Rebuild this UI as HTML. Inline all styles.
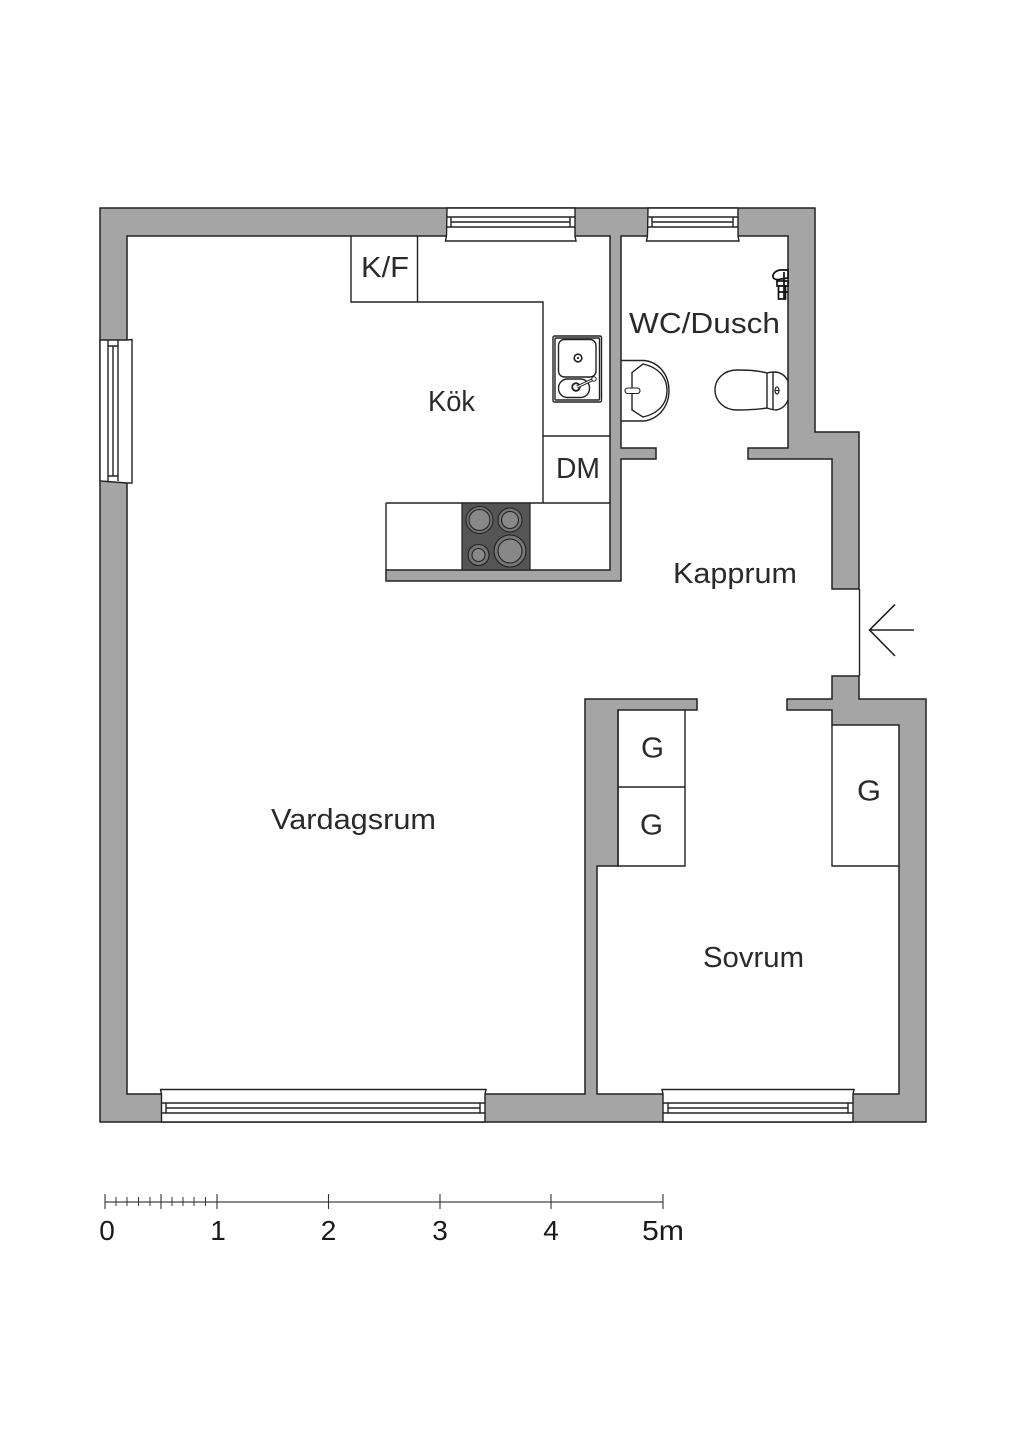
<!DOCTYPE html>
<html>
<head>
<meta charset="utf-8">
<style>
html,body{margin:0;padding:0;background:#fff;width:1024px;height:1448px;overflow:hidden}
svg{display:block}
.lab{font-family:"Liberation Sans",sans-serif;font-size:29px;fill:#2a2a2a}
.num{font-family:"Liberation Sans",sans-serif;font-size:28px;fill:#1a1a1a}
.l{fill:none;stroke:#222;stroke-width:1.4}
.w{fill:#fff;stroke:#222;stroke-width:1.4}
</style>
</head>
<body>
<svg width="1024" height="1448" viewBox="0 0 1024 1448" xmlns="http://www.w3.org/2000/svg">
<rect width="1024" height="1448" fill="#fff"/>

<!-- walls -->
<polygon fill="#a5a5a5" stroke="#222" stroke-width="1.5" points="100,208 815,208 815,432 859,432 859,589 832,589 832,459 748,459 748,448 788,448 788,236 621,236 621,448 656,448 656,459 621,459 621,581 386,581 386,570 610,570 610,236 127,236 127,1094 585,1094 585,699 697,699 697,710 618,710 618,866 597,866 597,1094 899,1094 899,725 832,725 832,710 787,710 787,699 832,699 832,676 859,676 859,699 926,699 926,1122 100,1122"/>

<!-- windows top -->
<g>
<path class="w" d="M447,208H575V236L576,241H445.500L446.500,236Z" />
<path class="l" d="M447,217H575M447,227H575M451,222H570M451,217V227M570,217V227"/>
<path class="w" d="M648,208H738V236L739,241H646.500L647.500,236Z"/>
<path class="l" d="M648,217H738M648,227H738M652,222H733M652,217V227M733,217V227"/>
</g>
<!-- window left -->
<path class="w" d="M100,340H127L132,339.500V483H127L100,481Z"/>
<path class="l" d="M108,340V481M118,340V481M113,346V476M108,346H118M108,476H118"/>
<!-- windows bottom -->
<path class="w" d="M161.500,1122V1094L160.500,1089.500H486L485,1094V1122Z"/>
<path class="l" d="M161.500,1103H485M161.500,1113H485M166,1108H480M166,1103V1113M480,1103V1113"/>
<path class="w" d="M663,1122V1094L662,1089.500H854L853,1094V1122Z"/>
<path class="l" d="M663,1103H853M663,1113H853M668,1108H848M668,1103V1113M848,1103V1113"/>

<!-- kitchen -->
<path class="l" d="M351,236V302H543V503M417.500,236V302M543,436H610M386,503H610M386,503V570"/>
<rect x="462" y="503" width="68" height="67" fill="#555" stroke="#222" stroke-width="1.2"/>
<g stroke="#222" stroke-width="1.1">
<circle cx="479.500" cy="520" r="13.500" fill="#777"/><circle cx="479.500" cy="520" r="10.500" fill="#888"/>
<circle cx="510" cy="520" r="12" fill="#777"/><circle cx="510" cy="520" r="8.500" fill="#888"/>
<circle cx="478.500" cy="555" r="10.500" fill="#777"/><circle cx="478.500" cy="555" r="6.500" fill="#888"/>
<circle cx="510" cy="551" r="16" fill="#777"/><circle cx="510" cy="551" r="12" fill="#888"/>
</g>

<!-- sink -->
<rect class="l" x="553" y="336" width="48.500" height="66" rx="1.500"/>
<rect class="l" x="555" y="338" width="44.500" height="62" rx="1"/>
<rect class="l" x="558.500" y="339.500" width="37.500" height="37.500" rx="6"/>
<rect class="l" x="558.500" y="379" width="31" height="18.500" rx="9"/>
<circle cx="578" cy="358" r="3.800" fill="#fff" stroke="#222" stroke-width="1.6"/><circle cx="578" cy="358" r="1.100" fill="#222"/>
<circle cx="576" cy="387" r="3.800" fill="#fff" stroke="#222" stroke-width="1.8"/>
<path d="M577,387L594,379" stroke="#222" stroke-width="3" fill="none"/>
<path d="M577,387L594,379" stroke="#fff" stroke-width="1" fill="none"/>
<circle cx="594" cy="379" r="2.200" fill="#fff" stroke="#222" stroke-width="1"/>

<!-- basin -->
<path class="l" d="M621,360.500H644C659,362 669,375 669,390.500C669,406 659,419 644,421H621"/>
<path class="l" d="M632,372.500L643,364C657,367 667,376 667,390.500C667,405 657,414 643,417L632,410Z"/>
<rect x="625" y="388" width="15" height="5.500" rx="2.700" fill="#fff" stroke="#222" stroke-width="1.1"/>

<!-- toilet -->
<path class="l" d="M767,373C755,370 745,370 737,370C724,370 715,379 715,390C715,401 724,410 737,410C745,410 755,410 767,408Z"/>
<path class="l" d="M767,373C770,372 773,372 776,372C782,373 786,377 788,381M767,408C770,409 773,410 776,410C782,409 786,405 788,400M773,372V410"/>
<ellipse cx="777" cy="390.500" rx="2" ry="3.500" fill="#fff" stroke="#222" stroke-width="1.2"/>
<path d="M775,390.500H779" stroke="#222" stroke-width="1"/>

<!-- shower mixer -->
<g fill="#fff" stroke="#111" stroke-width="1.7">
<path d="M788,270H780C775,271 772.500,274 773,277C774,280 778,280 781,279L788,278Z"/>
<rect x="777" y="281" width="11" height="5"/>
<rect x="778.500" y="286" width="7" height="13"/>
<path d="M778,292H788M784,272V299" fill="none"/>
</g>

<!-- closets -->
<path class="l" d="M618,710V866H685V710M618,787H685"/>
<path class="l" d="M832,725V866H899"/>

<!-- entrance -->
<path class="l" d="M859.500,589V676"/>
<path d="M914,630H869M895,604.500L869.500,630L895,656" fill="none" stroke="#222" stroke-width="1.6"/>

<!-- scale -->
<path d="M105,1202H663" stroke="#444" stroke-width="1.3" fill="none"/>
<path d="M105,1194V1209M161,1194V1209M217,1194V1209M328.500,1194V1209M440,1194V1209M551,1194V1209M663,1194V1209" stroke="#333" stroke-width="1.1" fill="none"/>
<path d="M116,1197V1206M127,1197V1206M138.500,1197V1206M150,1197V1206M172,1197V1206M183,1197V1206M194,1197V1206M205.500,1197V1206" stroke="#333" stroke-width="1" fill="none"/>
<text class="num" x="107" y="1240" text-anchor="middle">0</text>
<text class="num" x="218" y="1240" text-anchor="middle">1</text>
<text class="num" x="328.500" y="1240" text-anchor="middle">2</text>
<text class="num" x="440" y="1240" text-anchor="middle">3</text>
<text class="num" x="551" y="1240" text-anchor="middle">4</text>
<text class="num" x="642" y="1240" textLength="42" lengthAdjust="spacingAndGlyphs">5m</text>

<!-- labels -->
<text class="lab" x="361" y="277" textLength="48" lengthAdjust="spacingAndGlyphs">K/F</text>
<text class="lab" x="428" y="411" textLength="47" lengthAdjust="spacingAndGlyphs">Kök</text>
<text class="lab" x="629" y="333" textLength="151" lengthAdjust="spacingAndGlyphs">WC/Dusch</text>
<text class="lab" x="556" y="478" textLength="44" lengthAdjust="spacingAndGlyphs">DM</text>
<text class="lab" x="673" y="583" textLength="124" lengthAdjust="spacingAndGlyphs">Kapprum</text>
<text class="lab" x="271" y="829" textLength="165" lengthAdjust="spacingAndGlyphs">Vardagsrum</text>
<text class="lab" x="703" y="967" textLength="101" lengthAdjust="spacingAndGlyphs">Sovrum</text>
<text class="lab" x="641" y="757.500" textLength="23" lengthAdjust="spacingAndGlyphs">G</text>
<text class="lab" x="640" y="834.500" textLength="23" lengthAdjust="spacingAndGlyphs">G</text>
<text class="lab" x="857" y="800.500" textLength="24" lengthAdjust="spacingAndGlyphs">G</text>
</svg>
</body>
</html>
